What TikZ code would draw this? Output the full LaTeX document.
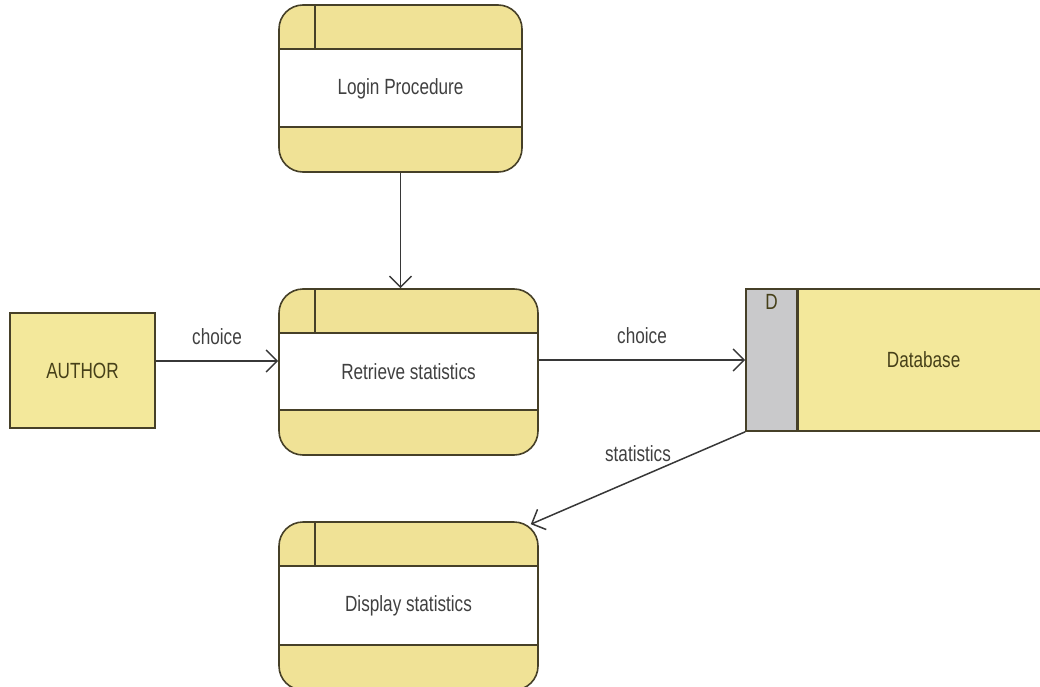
\documentclass[tikz,border=0pt]{standalone}
\usepackage{fontspec}
\setmainfont{Liberation Sans}[FakeStretch=0.78]
\usetikzlibrary{arrows.meta,positioning}
\definecolor{procfill}{RGB}{240,226,150}
\definecolor{storefill}{RGB}{243,232,155}
\definecolor{idfill}{RGB}{201,201,203}
\definecolor{edgecol}{RGB}{70,64,40}
\definecolor{linecol}{RGB}{55,55,55}
\definecolor{labelcol}{RGB}{64,64,64}
\definecolor{namecol}{RGB}{70,64,25}

\begin{document}
\begin{tikzpicture}[x=1pt,y=-1pt,font=\fontsize{22}{26}\selectfont]
\tikzstyle{process}=[draw=edgecol,line width=1.6pt,fill=procfill,rounded corners=24pt,
  minimum width=259pt,minimum height=166pt,inner sep=0pt,text=labelcol,
  path picture={
    \coordinate (pnw) at (path picture bounding box.north west);
    \coordinate (pne) at (path picture bounding box.north east);
    \coordinate (psw) at (path picture bounding box.south west);
    \coordinate (pse) at (path picture bounding box.south east);
    \fill[white,sharp corners] ([yshift=-44pt]pnw) rectangle ([yshift=45pt]pse);
    \draw[edgecol,line width=1.6pt,sharp corners]
      ([yshift=-44pt]pnw) -- ([yshift=-44pt]pne)
      ([yshift=45pt]psw) -- ([yshift=45pt]pse)
      ([xshift=36pt]pnw) -- ([xshift=36pt,yshift=-44pt]pnw);
  }]
\tikzstyle{entity}=[draw=edgecol,line width=1.6pt,fill=storefill,text=namecol,
  minimum width=145pt,minimum height=115pt]
\tikzstyle{storeid}=[draw=edgecol,line width=1.6pt,fill=idfill,
  minimum width=51pt,minimum height=142pt]
\tikzstyle{store}=[draw=edgecol,line width=1.6pt,fill=storefill,
  minimum width=300pt,minimum height=142pt]
\tikzstyle{flow}=[draw=linecol,line width=1.5pt,-{Straight Barb[length=11pt,width=22pt]}]
\tikzstyle{annot}=[text=labelcol,inner sep=2pt]

\useasboundingbox (0,0) rectangle (1040,687);
\clip (0,0) rectangle (1040,687);

% Draw the processes
\node[process,minimum width=243pt,minimum height=167pt] (login) at (400.5,88.5) {Login Procedure};
\node[process] (retrieve) at (408.5,372) {Retrieve statistics};
\node[process,minimum height=168pt] (display) at (408.5,606) {Display statistics};

% Draw the external entity
\node[entity] (author) at (82.5,370.5) {AUTHOR};

% Draw the data store
\node[storeid] (dsid) at (771.5,360) {};
\node[anchor=north,text=namecol,yshift=-3pt] (dtag) at (dsid.north) {D};
\node[store,right=0pt of dsid,label={[text=namecol,xshift=-25pt]center:Database}] (dsname) {};

% Connect the nodes with the data flows
\draw[flow] (login.south) -- (login.south |- retrieve.north);

\coordinate (a1) at ([yshift=9.5pt]author.east);
\draw[flow] (a1) -- (a1 -| retrieve.west)
  node[annot,midway,above=14pt] {choice};

\draw[flow] (retrieve.east |- dsid.west) -- (dsid.west)
  node[annot,midway,above=14pt] {choice};

\draw[flow] (dsid.south west) -- ([xshift=-8pt,yshift=-3pt]display.north east)
  node[annot,pos=0.5,above=14pt] {statistics};
\end{tikzpicture}
\end{document}
